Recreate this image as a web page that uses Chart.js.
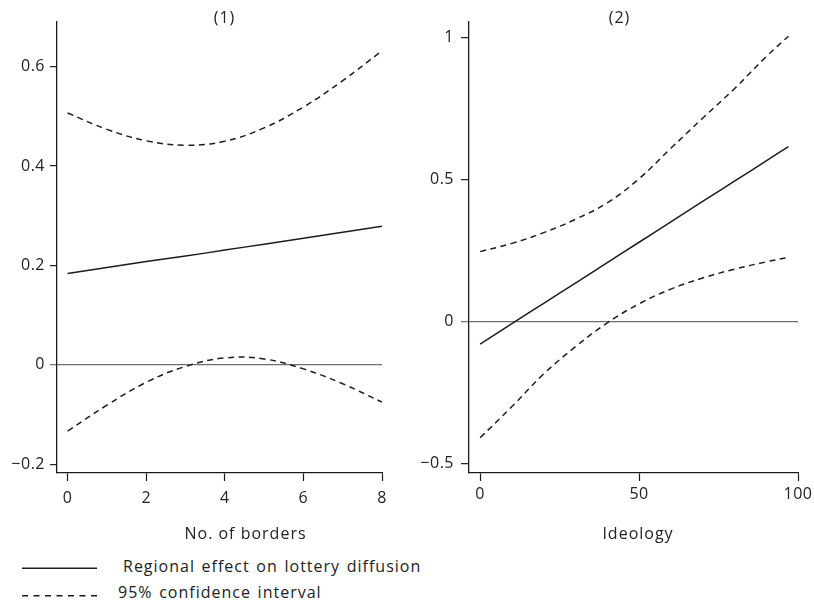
<!DOCTYPE html>
<html>
<head>
<meta charset="utf-8">
<script src="https://cdn.jsdelivr.net/npm/chart.js@4.4.1/dist/chart.umd.min.js"></script>
<style>
  html, body { margin: 0; padding: 0; background: #fff; overflow: hidden; width: 814px; height: 607px; }
  canvas { position: absolute; top: 0; }
  #c1 { left: 0; }
  #c2 { left: 400px; }
  .lg-text { position: absolute; font-family: "Open Sans", "DejaVu Sans", sans-serif; font-size: 16px; line-height: 20px;
             color: #222; letter-spacing: 1px; word-spacing: 1.5px; white-space: nowrap; }
  #lgsvg { position: absolute; left: 0; top: 555px; }
</style>
</head>
<body>
<canvas id="c1" width="405" height="555"></canvas>
<canvas id="c2" width="414" height="555"></canvas>
<svg id="lgsvg" width="110" height="52"></svg>
<div id="lg1" class="lg-text" style="left:123px; top:555.5px;"></div>
<div id="lg2" class="lg-text" style="left:118px; top:582px;"></div>
<script>
// ---------- Panel (1): No. of borders ----------
const borders = [0, 1, 2, 3, 4, 5, 6, 7, 8];
const effect1 = [0.184, 0.196, 0.208, 0.219, 0.231, 0.243, 0.255, 0.267, 0.279];
const upper1  = [0.507, 0.474, 0.451, 0.442, 0.450, 0.477, 0.519, 0.572, 0.632];
const lower1  = [-0.133, -0.081, -0.035, -0.003, 0.014, 0.012, -0.008, -0.038, -0.075];
const xTicks1 = [0, 2, 4, 6, 8];
const xTickLabels1 = ['0', '2', '4', '6', '8'];
const yTicks1 = [-0.2, 0, 0.2, 0.4, 0.6];
const yTickLabels1 = ['\u22120.2', '0', '0.2', '0.4', '0.6'];
const panelTitle1 = '(1)';
const axisTitle1 = 'No. of borders';

// ---------- Panel (2): Ideology ----------
const ideology = [0, 10, 20, 30, 40, 50, 60, 70, 80, 90, 97];
const effect2 = [-0.080, -0.008, 0.064, 0.135, 0.207, 0.279, 0.351, 0.423, 0.494, 0.566, 0.616];
const upper2  = [0.246, 0.275, 0.313, 0.360, 0.418, 0.503, 0.610, 0.716, 0.820, 0.933, 1.005];
const lower2  = [-0.410, -0.300, -0.185, -0.089, -0.005, 0.062, 0.114, 0.153, 0.184, 0.210, 0.226];
const xTicks2 = [0, 50, 100];
const xTickLabels2 = ['0', '50', '100'];
const yTicks2 = [-0.5, 0, 0.5, 1];
const yTickLabels2 = ['\u22120.5', '0', '0.5', '1'];
const panelTitle2 = '(2)';
const axisTitle2 = 'Ideology';

// ---------- Legend ----------
const legendLabels = ['Regional effect on lottery diffusion', '95% confidence interval'];

const FONT = '"Open Sans", "DejaVu Sans", sans-serif';
const INK = '#1c1c1c';
const TXT = '#222222';
const ZERO = '#6f6f6f';

const textPlugin = {
  id: 'panelText',
  beforeDraw(chart) {
    chart.ctx.letterSpacing = '0.5px';
  },
  afterDraw(chart, args, o) {
    const ctx = chart.ctx;
    ctx.save();
    ctx.letterSpacing = '1px';
    ctx.fillStyle = TXT;
    ctx.font = '16px ' + FONT;
    ctx.textAlign = 'center';
    ctx.textBaseline = 'alphabetic';
    ctx.fillText(o.title, o.titleX, o.titleY);
    ctx.fillText(o.axisTitle, o.axisX, o.axisY);
    ctx.restore();
  }
};

function pts(xs, ys) { return xs.map((x, i) => ({ x: x, y: ys[i] })); }

function makePanel(canvasId, p) {
  const lineBase = { borderColor: INK, borderWidth: 1.5, pointRadius: 0, tension: 0.4, fill: false };
  return new Chart(document.getElementById(canvasId), {
    type: 'line',
    data: {
      datasets: [
        Object.assign({ label: legendLabels[0], data: pts(p.xs, p.effect) }, lineBase),
        Object.assign({ label: legendLabels[1], data: pts(p.xs, p.upper), borderDash: [6, 4.5] }, lineBase),
        Object.assign({ label: legendLabels[1] + ' (lower)', data: pts(p.xs, p.lower), borderDash: [6, 4.5] }, lineBase)
      ]
    },
    options: {
      responsive: false,
      animation: false,
      events: [],
      layout: { padding: { top: 22, left: 0, right: p.padRight, bottom: 0 } },
      plugins: {
        legend: { display: false },
        tooltip: { enabled: false },
        panelText: { title: p.title, titleX: p.titleX, titleY: p.titleY, axisTitle: p.axisTitle, axisX: p.axisX, axisY: p.axisY }
      },
      scales: {
        x: {
          type: 'linear', min: p.xMin, max: p.xMax,
          afterBuildTicks: (s) => { s.ticks = p.xTicks.map(v => ({ value: v })); },
          afterFit: (s) => { s.height = 82; s.paddingLeft = 0; s.paddingRight = 0; },
          grid: { drawOnChartArea: false, drawTicks: true, tickLength: 8, tickColor: INK, tickWidth: 1.2 },
          border: { display: true, color: INK, width: 1.3 },
          ticks: { padding: p.xLabelPad, color: TXT, font: { family: FONT, size: 16 }, maxRotation: 0,
                   autoSkip: false, callback: (v, i) => p.xTickLabels[i] }
        },
        y: {
          type: 'linear', min: p.yMin, max: p.yMax,
          afterBuildTicks: (s) => { s.ticks = p.yTicks.map(v => ({ value: v })); },
          afterFit: (s) => { s.width = p.yWidth; s.paddingTop = 0; s.paddingBottom = 0; },
          grid: {
            drawOnChartArea: true, drawTicks: true, tickLength: p.yTickLen, lineWidth: 1.3, tickWidth: 1.2,
            color: (c) => (c.tick && c.tick.value === 0) ? ZERO : 'rgba(0,0,0,0)',
            tickColor: (c) => (c.tick && c.tick.value === 0) ? ZERO : INK
          },
          border: { display: true, color: INK, width: 1.3 },
          ticks: { padding: p.yLabelPad, color: TXT, font: { family: FONT, size: 16 }, autoSkip: false,
                   callback: (v, i) => p.yTickLabels[i] }
        }
      }
    },
    plugins: [textPlugin]
  });
}

function buildLegend() {
  const svg = document.getElementById('lgsvg');
  svg.innerHTML =
    '<line x1="22" y1="13.3" x2="97" y2="13.3" stroke="' + INK + '" stroke-width="1.5"/>' +
    '<line x1="22" y1="40.7" x2="97" y2="40.7" stroke="' + INK + '" stroke-width="1.5" stroke-dasharray="6 5.5"/>';
  document.getElementById('lg1').textContent = legendLabels[0];
  document.getElementById('lg2').textContent = legendLabels[1];
}

function init() {
  buildLegend();
  makePanel('c1', {
    xs: borders, effect: effect1, upper: upper1, lower: lower1,
    xMin: -0.27, xMax: 8, yMin: -0.2175, yMax: 0.69,
    xTicks: xTicks1, xTickLabels: xTickLabels1, yTicks: yTicks1, yTickLabels: yTickLabels1,
    yWidth: 57, padRight: 23, yTickLen: 7, yLabelPad: 5, xLabelPad: 8,
    title: panelTitle1, titleX: 224.5, titleY: 23,
    axisTitle: axisTitle1, axisX: 245.5, axisY: 539
  });
  makePanel('c2', {
    xs: ideology, effect: effect2, upper: upper2, lower: lower2,
    xMin: -3.5, xMax: 100, yMin: -0.534, yMax: 1.055,
    xTicks: xTicks2, xTickLabels: xTickLabels2, yTicks: yTicks2, yTickLabels: yTickLabels2,
    yWidth: 69, padRight: 16, yTickLen: 8, yLabelPad: 7, xLabelPad: 4,
    title: panelTitle2, titleX: 219.5, titleY: 22.5,
    axisTitle: axisTitle2, axisX: 238, axisY: 539
  });
}

if (document.fonts && document.fonts.load) {
  document.fonts.load('16px "Open Sans"').then(init, init);
} else {
  init();
}
</script>
</body>
</html>
